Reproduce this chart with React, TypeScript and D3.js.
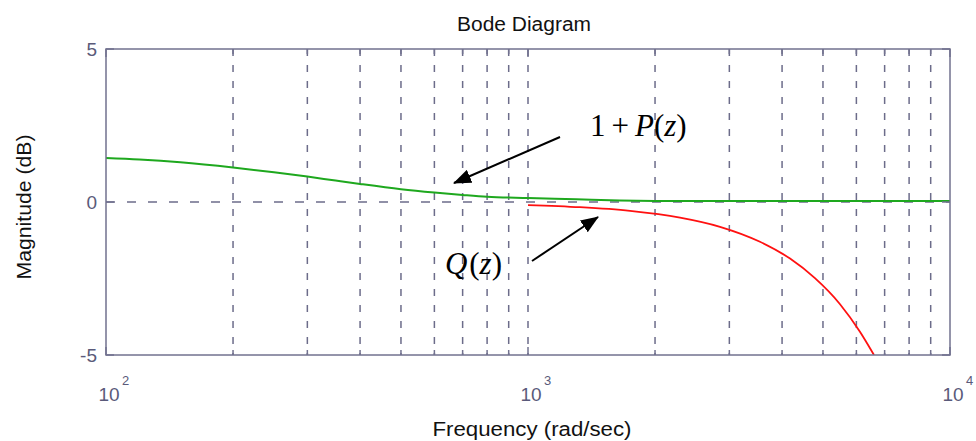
import React from "react";
import * as d3 from "d3";

// Magnitude of 1+P(z), dB
const freqP = [100, 120, 150, 200, 250, 300, 350, 400, 500, 600, 700, 800, 1000, 1300, 1650, 2000, 3000, 10000];
const magP = [1.44, 1.39, 1.3, 1.13, 0.97, 0.83, 0.7, 0.59, 0.42, 0.31, 0.23, 0.17, 0.13, 0.09, 0.05, 0.035, 0.03, 0.03];

// Magnitude of Q(z), dB
const freqQ = [1000, 1328, 1745, 2292, 2851, 3546, 4178, 4786, 5488, 6118, 6605];
const magQ = [-0.1, -0.17, -0.29, -0.51, -0.81, -1.3, -1.85, -2.49, -3.34, -4.24, -5.0];

const yTicks = [-5, 0, 5];
const xDecades = [100, 1000, 10000];
const xDecadeExp = ["2", "3", "4"];

const W = 976;
const H = 441;
const L = 106, R = 950, T = 49, B = 355;

const axisColor = "#72728f";
const gridColor = "#6c6c8a";
const labelColor = "#5a5a7a";

export default function App() {
  const x = d3.scaleLog().domain([100, 10000]).range([L, R]);
  const y = d3.scaleLinear().domain([-5, 5]).range([B, T]);

  const minor: number[] = [];
  [100, 1000].forEach((d) => {
    for (let k = 1; k <= 9; k++) minor.push(d * k);
  });
  const gridX = minor.filter((f) => f > 100 && f < 10000);

  const line = d3
    .line<[number, number]>()
    .x((d) => x(d[0]))
    .y((d) => y(d[1]))
    .curve(d3.curveMonotoneX);

  const pathP = line(freqP.map((f, i) => [f, magP[i]] as [number, number])) || "";
  const pathQ = line(freqQ.map((f, i) => [f, magQ[i]] as [number, number])) || "";

  const sans = "'Liberation Sans', Arial, sans-serif";
  const serif = "'Liberation Serif', 'Times New Roman', serif";

  return (
    <svg
      width={W}
      height={H}
      style={{ position: "absolute", left: 0, top: 0, background: "#fff" }}
    >
      <defs>
        <clipPath id="plotClip">
          <rect x={L} y={T} width={R - L} height={B - T} />
        </clipPath>
        <marker
          id="arrowHead"
          viewBox="0 0 18 14"
          refX="17"
          refY="7"
          markerWidth="18"
          markerHeight="14"
          markerUnits="userSpaceOnUse"
          orient="auto"
        >
          <path d="M0,0 L18,7 L0,14 Z" fill="#000" />
        </marker>
      </defs>

      {/* Vertical dashed grid */}
      {gridX.map((f) => (
        <line
          key={"g" + f}
          x1={x(f)}
          x2={x(f)}
          y1={T}
          y2={B}
          stroke={gridColor}
          strokeWidth={1.5}
          strokeDasharray="7 9"
        />
      ))}
      {/* Zero line */}
      <line
        x1={L}
        x2={R}
        y1={y(0)}
        y2={y(0)}
        stroke={gridColor}
        strokeWidth={1.5}
        strokeDasharray="9 12"
      />

      {/* Curves */}
      <g clipPath="url(#plotClip)">
        <path d={pathP} fill="none" stroke="#1ea81e" strokeWidth={2} />
        <path d={pathQ} fill="none" stroke="#ff1010" strokeWidth={1.8} />
      </g>

      {/* Frame */}
      <rect x={L} y={T} width={R - L} height={B - T} fill="none" stroke={axisColor} strokeWidth={1.5} />

      {/* X ticks, bottom and top */}
      {minor.concat([10000]).map((f) => {
        const major = xDecades.includes(f);
        const len = major ? 8 : 5;
        return (
          <g key={"t" + f}>
            <line x1={x(f)} x2={x(f)} y1={B} y2={B - len} stroke={axisColor} strokeWidth={1.5} />
            <line x1={x(f)} x2={x(f)} y1={T} y2={T + len} stroke={axisColor} strokeWidth={1.5} />
          </g>
        );
      })}
      {/* Y ticks, left and right */}
      {yTicks.map((v) => (
        <g key={"yt" + v}>
          <line x1={L} x2={L + 8} y1={y(v)} y2={y(v)} stroke={axisColor} strokeWidth={1.5} />
          <line x1={R} x2={R - 8} y1={y(v)} y2={y(v)} stroke={axisColor} strokeWidth={1.5} />
          <text
            x={L - 9}
            y={y(v) + 7}
            textAnchor="end"
            fontFamily={sans}
            fontSize={19}
            fill={labelColor}
          >
            {v}
          </text>
        </g>
      ))}

      {/* X decade labels */}
      {xDecades.map((f, i) => (
        <g key={"xl" + f} fontFamily={sans} fill={labelColor}>
          <text x={x(f) + 3} y={401} textAnchor="middle" fontSize={19}>
            10
          </text>
          <text x={x(f) + 16} y={385} fontSize={13}>
            {xDecadeExp[i]}
          </text>
        </g>
      ))}

      {/* Titles */}
      <text x={524} y={31} textAnchor="middle" fontFamily={sans} fontSize={20} fill="#111" textLength={134} lengthAdjust="spacingAndGlyphs">
        Bode Diagram
      </text>
      <text x={532} y={436} textAnchor="middle" fontFamily={sans} fontSize={20} fill="#111" textLength={199} lengthAdjust="spacingAndGlyphs">
        Frequency (rad/sec)
      </text>
      <text
        transform="translate(31,207) rotate(-90)"
        textAnchor="middle"
        fontFamily={sans}
        fontSize={20}
        fill="#111"
        textLength={145}
        lengthAdjust="spacingAndGlyphs"
      >
        Magnitude (dB)
      </text>

      {/* Annotations */}
      <line x1={560} y1={137} x2={454} y2={183} stroke="#000" strokeWidth={2} markerEnd="url(#arrowHead)" />
      <text x={590} y={136} fontFamily={serif} fontSize={31} fill="#000">
        <tspan>1</tspan>
        <tspan dx={6}>+</tspan>
        <tspan dx={6} fontStyle="italic">P</tspan>
        <tspan>(</tspan>
        <tspan fontStyle="italic">z</tspan>
        <tspan>)</tspan>
      </text>

      <line x1={532} y1={261} x2={598} y2={217} stroke="#000" strokeWidth={2} markerEnd="url(#arrowHead)" />
      <text x={502} y={274} textAnchor="end" fontFamily={serif} fontSize={31} fill="#000">
        <tspan fontStyle="italic">Q</tspan>
        <tspan dx={2}>(</tspan>
        <tspan fontStyle="italic">z</tspan>
        <tspan>)</tspan>
      </text>
    </svg>
  );
}
